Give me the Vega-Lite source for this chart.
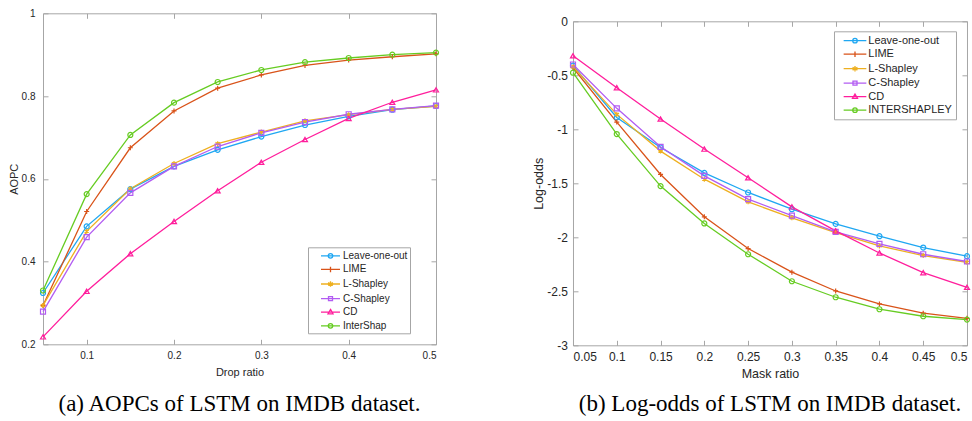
{
 "$schema": "https://vega.github.io/schema/vega-lite/v6.json",
 "background": "white",
 "padding": {"left": 7, "top": 7.3, "right": 0, "bottom": 0},
 "spacing": 90,
 "datasets": {
  "aopc": [
   {"r":0.05,"m":"Leave-one-out","v":0.324},{"r":0.1,"m":"Leave-one-out","v":0.485},{"r":0.15,"m":"Leave-one-out","v":0.575},{"r":0.2,"m":"Leave-one-out","v":0.630},{"r":0.25,"m":"Leave-one-out","v":0.670},{"r":0.3,"m":"Leave-one-out","v":0.702},{"r":0.35,"m":"Leave-one-out","v":0.730},{"r":0.4,"m":"Leave-one-out","v":0.751},{"r":0.45,"m":"Leave-one-out","v":0.767},{"r":0.5,"m":"Leave-one-out","v":0.776},
   {"r":0.05,"m":"LIME","v":0.294},{"r":0.1,"m":"LIME","v":0.521},{"r":0.15,"m":"LIME","v":0.675},{"r":0.2,"m":"LIME","v":0.764},{"r":0.25,"m":"LIME","v":0.819},{"r":0.3,"m":"LIME","v":0.851},{"r":0.35,"m":"LIME","v":0.874},{"r":0.4,"m":"LIME","v":0.887},{"r":0.45,"m":"LIME","v":0.895},{"r":0.5,"m":"LIME","v":0.902},
   {"r":0.05,"m":"L-Shapley","v":0.294},{"r":0.1,"m":"L-Shapley","v":0.473},{"r":0.15,"m":"L-Shapley","v":0.576},{"r":0.2,"m":"L-Shapley","v":0.637},{"r":0.25,"m":"L-Shapley","v":0.685},{"r":0.3,"m":"L-Shapley","v":0.713},{"r":0.35,"m":"L-Shapley","v":0.740},{"r":0.4,"m":"L-Shapley","v":0.755},{"r":0.45,"m":"L-Shapley","v":0.768},{"r":0.5,"m":"L-Shapley","v":0.775},
   {"r":0.05,"m":"C-Shapley","v":0.279},{"r":0.1,"m":"C-Shapley","v":0.459},{"r":0.15,"m":"C-Shapley","v":0.566},{"r":0.2,"m":"C-Shapley","v":0.630},{"r":0.25,"m":"C-Shapley","v":0.678},{"r":0.3,"m":"C-Shapley","v":0.711},{"r":0.35,"m":"C-Shapley","v":0.737},{"r":0.4,"m":"C-Shapley","v":0.756},{"r":0.45,"m":"C-Shapley","v":0.768},{"r":0.5,"m":"C-Shapley","v":0.777},
   {"r":0.05,"m":"CD","v":0.218},{"r":0.1,"m":"CD","v":0.328},{"r":0.15,"m":"CD","v":0.419},{"r":0.2,"m":"CD","v":0.497},{"r":0.25,"m":"CD","v":0.571},{"r":0.3,"m":"CD","v":0.640},{"r":0.35,"m":"CD","v":0.695},{"r":0.4,"m":"CD","v":0.746},{"r":0.45,"m":"CD","v":0.785},{"r":0.5,"m":"CD","v":0.815},
   {"r":0.05,"m":"InterShap","v":0.330},{"r":0.1,"m":"InterShap","v":0.563},{"r":0.15,"m":"InterShap","v":0.706},{"r":0.2,"m":"InterShap","v":0.784},{"r":0.25,"m":"InterShap","v":0.834},{"r":0.3,"m":"InterShap","v":0.863},{"r":0.35,"m":"InterShap","v":0.882},{"r":0.4,"m":"InterShap","v":0.892},{"r":0.45,"m":"InterShap","v":0.900},{"r":0.5,"m":"InterShap","v":0.905}
  ],
  "logodds": [
   {"r":0.05,"m":"Leave-one-out","v":-0.41},{"r":0.1,"m":"Leave-one-out","v":-0.89},{"r":0.15,"m":"Leave-one-out","v":-1.168},{"r":0.2,"m":"Leave-one-out","v":-1.403},{"r":0.25,"m":"Leave-one-out","v":-1.585},{"r":0.3,"m":"Leave-one-out","v":-1.74},{"r":0.35,"m":"Leave-one-out","v":-1.876},{"r":0.4,"m":"Leave-one-out","v":-1.99},{"r":0.45,"m":"Leave-one-out","v":-2.095},{"r":0.5,"m":"Leave-one-out","v":-2.175},
   {"r":0.05,"m":"LIME","v":-0.43},{"r":0.1,"m":"LIME","v":-0.933},{"r":0.15,"m":"LIME","v":-1.418},{"r":0.2,"m":"LIME","v":-1.81},{"r":0.25,"m":"LIME","v":-2.104},{"r":0.3,"m":"LIME","v":-2.323},{"r":0.35,"m":"LIME","v":-2.497},{"r":0.4,"m":"LIME","v":-2.617},{"r":0.45,"m":"LIME","v":-2.703},{"r":0.5,"m":"LIME","v":-2.75},
   {"r":0.05,"m":"L-Shapley","v":-0.42},{"r":0.1,"m":"L-Shapley","v":-0.862},{"r":0.15,"m":"L-Shapley","v":-1.202},{"r":0.2,"m":"L-Shapley","v":-1.462},{"r":0.25,"m":"L-Shapley","v":-1.672},{"r":0.3,"m":"L-Shapley","v":-1.82},{"r":0.35,"m":"L-Shapley","v":-1.956},{"r":0.4,"m":"L-Shapley","v":-2.08},{"r":0.45,"m":"L-Shapley","v":-2.169},{"r":0.5,"m":"L-Shapley","v":-2.231},
   {"r":0.05,"m":"C-Shapley","v":-0.40},{"r":0.1,"m":"C-Shapley","v":-0.806},{"r":0.15,"m":"C-Shapley","v":-1.162},{"r":0.2,"m":"C-Shapley","v":-1.431},{"r":0.25,"m":"C-Shapley","v":-1.647},{"r":0.3,"m":"C-Shapley","v":-1.80},{"r":0.35,"m":"C-Shapley","v":-1.95},{"r":0.4,"m":"C-Shapley","v":-2.061},{"r":0.45,"m":"C-Shapley","v":-2.157},{"r":0.5,"m":"C-Shapley","v":-2.224},
   {"r":0.05,"m":"CD","v":-0.319},{"r":0.1,"m":"CD","v":-0.615},{"r":0.15,"m":"CD","v":-0.905},{"r":0.2,"m":"CD","v":-1.183},{"r":0.25,"m":"CD","v":-1.449},{"r":0.3,"m":"CD","v":-1.718},{"r":0.35,"m":"CD","v":-1.94},{"r":0.4,"m":"CD","v":-2.145},{"r":0.45,"m":"CD","v":-2.327},{"r":0.5,"m":"CD","v":-2.463},
   {"r":0.05,"m":"INTERSHAPLEY","v":-0.476},{"r":0.1,"m":"INTERSHAPLEY","v":-1.044},{"r":0.15,"m":"INTERSHAPLEY","v":-1.526},{"r":0.2,"m":"INTERSHAPLEY","v":-1.872},{"r":0.25,"m":"INTERSHAPLEY","v":-2.157},{"r":0.3,"m":"INTERSHAPLEY","v":-2.407},{"r":0.35,"m":"INTERSHAPLEY","v":-2.555},{"r":0.4,"m":"INTERSHAPLEY","v":-2.666},{"r":0.45,"m":"INTERSHAPLEY","v":-2.731},{"r":0.5,"m":"INTERSHAPLEY","v":-2.762}
  ]
 },
 "config": {
  "view": {"stroke": "#a6a6a6", "strokeWidth": 1},
  "font": "Liberation Sans",
  "axis": {"grid": false, "domain": false, "tickColor": "#a6a6a6", "tickSize": -5, "labelFont": "Liberation Sans", "labelColor": "#262626", "titleFont": "Liberation Sans", "titleFontWeight": "normal", "titleColor": "#262626"},
  "title": {"font": "Liberation Serif", "fontSize": 23, "fontWeight": "normal", "color": "#000000", "orient": "bottom", "frame": "group", "anchor": "middle"},
  "legend": {"labelFont": "Liberation Sans", "labelColor": "#262626", "strokeColor": "#a6a6a6", "fillColor": "white", "symbolStrokeWidth": 1.3}
 },
 "resolve": {"scale": {"color": "independent", "shape": "independent"}},
 "hconcat": [
  {
   "width": 393, "height": 331,
   "title": {"text": "(a) AOPCs of LSTM on IMDB dataset.", "offset": 16},
   "data": {"name": "aopc"},
   "layer": [
    {"mark": {"type": "line", "strokeWidth": 1.3},
     "encoding": {
      "x": {"field": "r", "type": "quantitative", "scale": {"domain": [0.05, 0.5], "nice": false, "zero": false}, "axis": {"title": "Drop ratio", "values": [0.1,0.2,0.3,0.4,0.5], "labelExpr": "'' + datum.value", "labelFontSize": 10, "labelPadding": 11, "titleFontSize": 11, "titlePadding": 6}},
      "y": {"field": "v", "type": "quantitative", "scale": {"domain": [0.2, 1], "nice": false, "zero": false}, "axis": {"title": "AOPC", "values": [0.2,0.4,0.6,0.8,1], "labelExpr": "'' + datum.value", "labelFontSize": 10, "labelPadding": 13, "titleFontSize": 11, "titlePadding": 2}},
      "color": {"field": "m", "type": "nominal",
       "scale": {"domain": ["Leave-one-out","LIME","L-Shapley","C-Shapley","CD","InterShap"], "range": ["#1fa7f2","#d95319","#eeb020","#b25cf2","#ff1e9c","#66cc22"]},
       "legend": {"orient": "none", "legendX": 265, "legendY": 234, "title": null, "symbolType": "stroke", "symbolSize": 100, "padding": 2.5, "rowPadding": 2.6, "symbolOffset": 14, "labelOffset": 6.5, "labelFontSize": 10,
        "labelExpr": "datum.label + '\u00a0\u00a0\u00a0\u00a0'",
        "encode": {"symbols": {"update": {"fill": {"value": "transparent"}, "shape": {"signal": "datum.value === 'Leave-one-out' ? 'M-1.9,0H1.9M-0.45,0A0.45,0.45,0,1,1,0.45,0A0.45,0.45,0,1,1,-0.45,0' : datum.value === 'LIME' ? 'M-1.9,0H1.9M0,-0.55V0.55' : datum.value === 'L-Shapley' ? 'M-1.9,0H1.9M0,-0.55V0.55M-0.48,-0.28L0.48,0.28M-0.48,0.28L0.48,-0.28' : datum.value === 'C-Shapley' ? 'M-1.9,0H1.9M-0.4,-0.4H0.4V0.4H-0.4Z' : datum.value === 'CD' ? 'M-1.9,0H1.9M0,-0.55L0.5,0.32H-0.5Z' : 'M-1.9,0H1.9M-0.45,0A0.45,0.45,0,1,1,0.45,0A0.45,0.45,0,1,1,-0.45,0'"}}}}
       }}
     }},
    {"mark": {"type": "point", "filled": false, "size": 25, "strokeWidth": 1.2, "opacity": 1},
     "encoding": {
      "x": {"field": "r", "type": "quantitative", "axis": null},
      "y": {"field": "v", "type": "quantitative", "axis": null},
      "color": {"field": "m", "type": "nominal", "legend": null},
      "shape": {"field": "m", "type": "nominal", "legend": null,
       "scale": {"domain": ["Leave-one-out","LIME","L-Shapley","C-Shapley","CD","InterShap"], "range": ["circle","M-1,0H1M0,-1V1","M0,-1V1M-0.87,-0.5L0.87,0.5M-0.87,0.5L0.87,-0.5","square","triangle-up","circle"]}}
     }},
    {"mark": {"type": "point", "opacity": 0},
     "encoding": {
      "x": {"field": "r", "type": "quantitative", "axis": {"orient": "top", "labels": false, "title": null, "values": [0.1,0.2,0.3,0.4,0.5]}},
      "y": {"field": "v", "type": "quantitative", "axis": {"orient": "right", "labels": false, "title": null, "values": [0.2,0.4,0.6,0.8,1]}}
     }}
   ],
   "resolve": {"axis": {"x": "independent", "y": "independent"}, "legend": {"color": "independent", "shape": "independent"}}
  },
  {
   "spacing": 0,
   "resolve": {"scale": {"color": "independent", "shape": "independent"}},
   "vconcat": [
    {"width": 394, "height": 1, "view": {"stroke": null}, "data": {"values": []}, "mark": "point"},
    {
     "width": 394, "height": 324,
     "title": {"text": "(b) Log-odds of LSTM on IMDB dataset.", "offset": 13},
     "data": {"name": "logodds"},
     "layer": [
      {"mark": {"type": "line", "strokeWidth": 1.3},
       "encoding": {
        "x": {"field": "r", "type": "quantitative", "scale": {"domain": [0.05, 0.5], "nice": false, "zero": false}, "axis": {"title": "Mask ratio", "values": [0.05,0.1,0.15,0.2,0.25,0.3,0.35,0.4,0.45,0.5], "labelExpr": "'' + datum.value", "labelFontSize": 12, "labelPadding": 11, "titleFontSize": 12.5, "titlePadding": 5}},
        "y": {"field": "v", "type": "quantitative", "scale": {"domain": [-3, 0], "nice": false, "zero": false}, "axis": {"title": "Log-odds", "values": [0,-0.5,-1,-1.5,-2,-2.5,-3], "labelExpr": "'' + datum.value", "labelFontSize": 12, "labelPadding": 10.5, "titleFontSize": 12.5, "titlePadding": 1}},
        "color": {"field": "m", "type": "nominal",
         "scale": {"domain": ["Leave-one-out","LIME","L-Shapley","C-Shapley","CD","INTERSHAPLEY"], "range": ["#1fa7f2","#d95319","#eeb020","#b25cf2","#ff1e9c","#66cc22"]},
         "legend": {"orient": "none", "legendX": 261, "legendY": 10, "title": null, "symbolType": "stroke", "symbolSize": 100, "padding": 3.4, "rowPadding": 2.5, "symbolOffset": 11.6, "labelOffset": 7.3, "labelFontSize": 11,
          "labelExpr": "datum.label + '\u00a0\u00a0\u00a0'",
          "encode": {"symbols": {"update": {"fill": {"value": "transparent"}, "shape": {"signal": "datum.value === 'Leave-one-out' ? 'M-2.27,0H2.27M-0.45,0A0.45,0.45,0,1,1,0.45,0A0.45,0.45,0,1,1,-0.45,0' : datum.value === 'LIME' ? 'M-2.27,0H2.27M0,-0.55V0.55' : datum.value === 'L-Shapley' ? 'M-2.27,0H2.27M0,-0.55V0.55M-0.48,-0.28L0.48,0.28M-0.48,0.28L0.48,-0.28' : datum.value === 'C-Shapley' ? 'M-2.27,0H2.27M-0.4,-0.4H0.4V0.4H-0.4Z' : datum.value === 'CD' ? 'M-2.27,0H2.27M0,-0.55L0.5,0.32H-0.5Z' : 'M-2.27,0H2.27M-0.45,0A0.45,0.45,0,1,1,0.45,0A0.45,0.45,0,1,1,-0.45,0'"}}}}
         }}
       }},
      {"mark": {"type": "point", "filled": false, "size": 25, "strokeWidth": 1.2, "opacity": 1},
       "encoding": {
        "x": {"field": "r", "type": "quantitative", "axis": null},
        "y": {"field": "v", "type": "quantitative", "axis": null},
        "color": {"field": "m", "type": "nominal", "legend": null},
        "shape": {"field": "m", "type": "nominal", "legend": null,
         "scale": {"domain": ["Leave-one-out","LIME","L-Shapley","C-Shapley","CD","INTERSHAPLEY"], "range": ["circle","M-1,0H1M0,-1V1","M0,-1V1M-0.87,-0.5L0.87,0.5M-0.87,0.5L0.87,-0.5","square","triangle-up","circle"]}}
       }},
      {"mark": {"type": "point", "opacity": 0},
       "encoding": {
        "x": {"field": "r", "type": "quantitative", "axis": {"orient": "top", "labels": false, "title": null, "values": [0.05,0.1,0.15,0.2,0.25,0.3,0.35,0.4,0.45,0.5]}},
        "y": {"field": "v", "type": "quantitative", "axis": {"orient": "right", "labels": false, "title": null, "values": [0,-0.5,-1,-1.5,-2,-2.5,-3]}}
       }}
     ],
     "resolve": {"axis": {"x": "independent", "y": "independent"}, "legend": {"color": "independent", "shape": "independent"}}
    }
   ]
  }
 ]
}
